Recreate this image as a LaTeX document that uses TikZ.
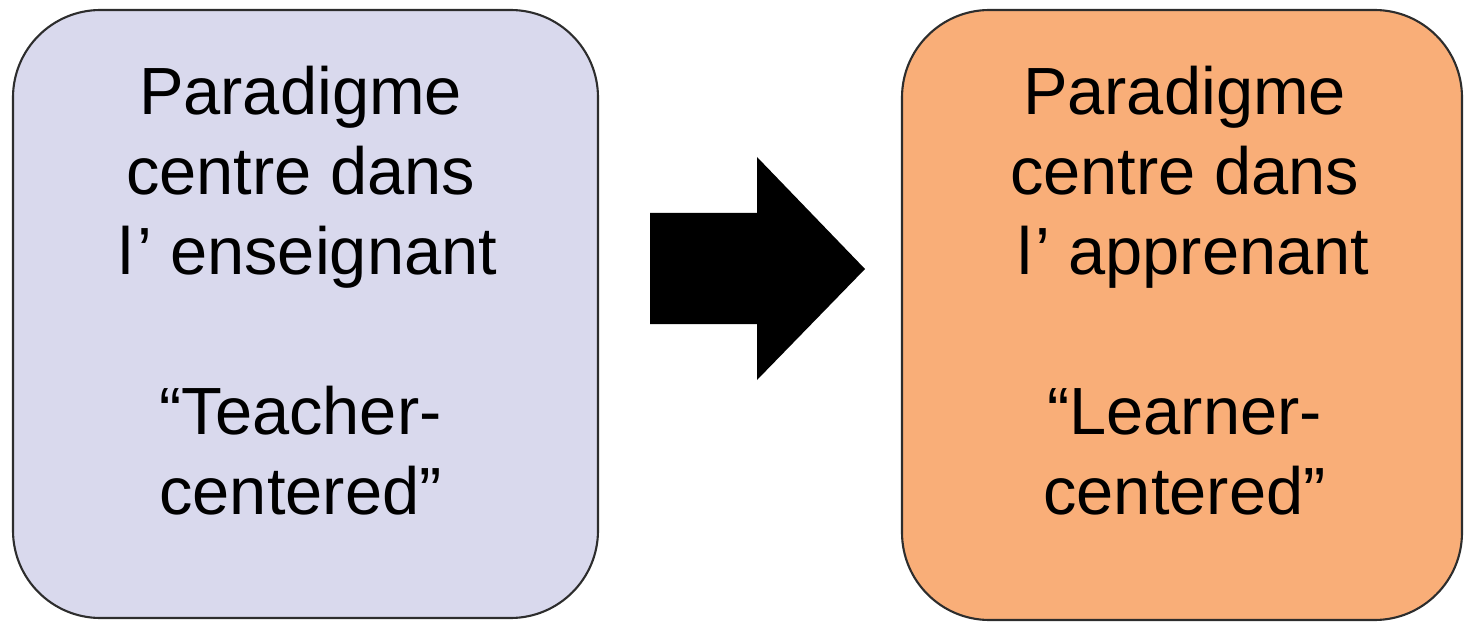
\documentclass[tikz,border=0pt]{standalone}
\usepackage{fontspec}
\setmainfont{Liberation Sans}
\usepackage{tikz}

\definecolor{teacherfill}{RGB}{217,217,237}
\definecolor{learnerfill}{RGB}{249,174,120}
\definecolor{boxedge}{RGB}{45,45,45}

\begin{document}
\begin{tikzpicture}
    \tikzset{
        paradigm/.style = {draw = boxedge, line width = 1.2pt, rounded corners = 1.75cm, inner sep = 0pt},
        caption/.style = {align = center, inner sep = 0pt, font = \fontsize{38}{45.5}\selectfont}
    }
    \def\shiftarrow{(13.0, 8.26) -- (15.14, 8.26) -- (15.14, 9.38) -- (17.30, 7.14)
        -- (15.14, 4.92) -- (15.14, 6.04) -- (13.0, 6.04) -- cycle}

    \useasboundingbox (0, 0) rectangle (29.32, 12.52);

    \node[paradigm, fill = teacherfill, minimum width = 11.7cm, minimum height = 12.16cm] (teacher) at (6.11, 6.24) {};
    \node[paradigm, fill = learnerfill, minimum width = 11.2cm, minimum height = 12.2cm] (learner) at (23.64, 6.22) {};

    \node[caption] (teachertext) at ([xshift = -0.1cm, yshift = 0.46cm] teacher.center)
        {Paradigme\\centre dans\\\hspace*{0.3cm}l\kern0.05em’ enseignant\\[45.5pt]“Teacher-\\centered”};
    \node[caption] (learnertext) at ([xshift = 0.05cm, yshift = 0.48cm] learner.center)
        {Paradigme\\centre dans\\\hspace*{0.35cm}l\kern0.05em’ apprenant\\[45.5pt]“Learner-\\centered”};

    \fill[black] \shiftarrow;
\end{tikzpicture}
\end{document}
